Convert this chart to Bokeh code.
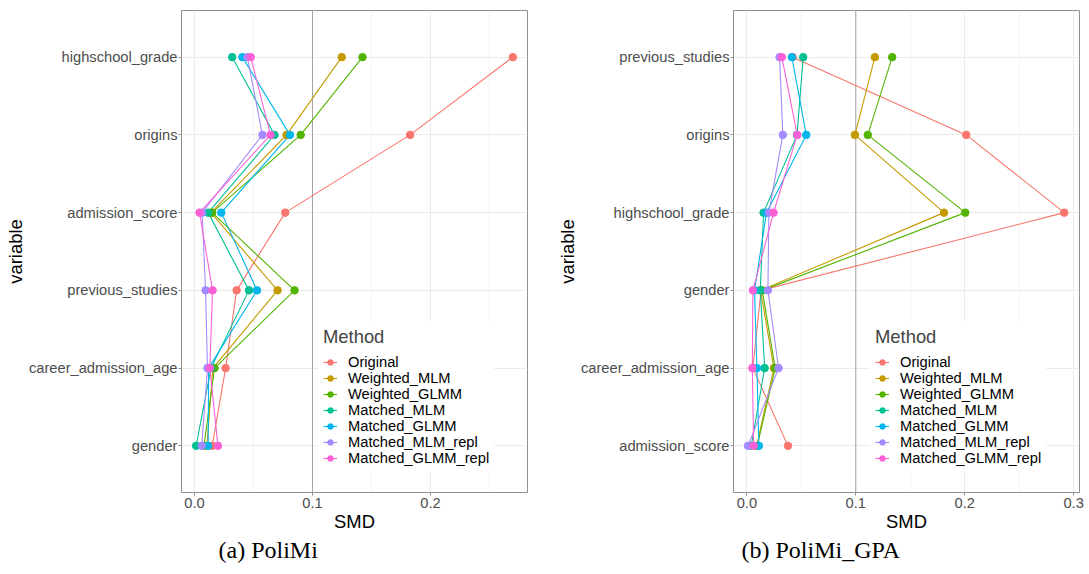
from bokeh.plotting import figure
from bokeh.models import (Range1d, FixedTicker, NumeralTickFormatter, Span, Legend,
                          LegendItem, Title)
from bokeh.layouts import row
from bokeh.embed import file_html
from bokeh.resources import INLINE

methods = ["Original", "Weighted_MLM", "Weighted_GLMM", "Matched_MLM",
           "Matched_GLMM", "Matched_MLM_repl", "Matched_GLMM_repl"]
colors = ["#F8766D", "#C49A00", "#53B400", "#00C094", "#00B6EB", "#A58AFF", "#FB61D7"]

# Panel (a) PoliMi : categories listed top to bottom
cats_a = ["highschool_grade", "origins", "admission_score", "previous_studies",
          "career_admission_age", "gender"]
a_original = [0.2698, 0.1827, 0.0769, 0.0357, 0.0264, 0.0150]
a_weighted_mlm = [0.1248, 0.0780, 0.0140, 0.0704, 0.0156, 0.0105]
a_weighted_glmm = [0.1424, 0.0900, 0.0150, 0.0848, 0.0170, 0.0080]
a_matched_mlm = [0.0320, 0.0678, 0.0116, 0.0462, 0.0140, 0.0014]
a_matched_glmm = [0.0406, 0.0809, 0.0227, 0.0530, 0.0120, 0.0116]
a_matched_mlm_repl = [0.0448, 0.0576, 0.0065, 0.0094, 0.0110, 0.0062]
a_matched_glmm_repl = [0.0477, 0.0644, 0.0043, 0.0153, 0.0130, 0.0199]

# Panel (b) PoliMi_GPA : categories listed top to bottom
cats_b = ["previous_studies", "origins", "highschool_grade", "gender",
          "career_admission_age", "admission_score"]
b_original = [0.0420, 0.2014, 0.2914, 0.0130, 0.0055, 0.0377]
b_weighted_mlm = [0.1175, 0.0992, 0.1810, 0.0125, 0.0248, 0.0090]
b_weighted_glmm = [0.1334, 0.1110, 0.2005, 0.0141, 0.0260, 0.0095]
b_matched_mlm = [0.0517, 0.0460, 0.0153, 0.0123, 0.0163, 0.0040]
b_matched_glmm = [0.0413, 0.0545, 0.0180, 0.0070, 0.0092, 0.0110]
b_matched_mlm_repl = [0.0300, 0.0330, 0.0202, 0.0193, 0.0291, 0.0010]
b_matched_glmm_repl = [0.0321, 0.0462, 0.0245, 0.0055, 0.0050, 0.0062]

x_ticks = [0.0, 0.1, 0.2, 0.3]
x_minor = [0.05, 0.15, 0.25]

SANS = "Liberation Sans"
GRID = "#EBEBEB"
BORDER = "#8F8F8F"


def make_panel(cats, series, xr, caption, border_left, border_right, cap_offset):
    n = len(cats)
    ypos = [n - i for i in range(n)]
    p = figure(frame_width=346, frame_height=482,
               min_border_left=border_left, min_border_right=border_right,
               min_border_top=10, min_border_bottom=82,
               x_range=Range1d(*xr), y_range=Range1d(0.4, n + 0.6),
               output_backend="svg", toolbar_location=None)
    p.background_fill_color = "white"
    p.border_fill_color = "white"
    p.outline_line_color = BORDER
    p.outline_line_width = 1

    xt = [t for t in x_ticks if xr[0] <= t <= xr[1]]
    p.xaxis.ticker = FixedTicker(ticks=xt, minor_ticks=x_minor)
    p.xgrid.ticker = FixedTicker(ticks=xt, minor_ticks=x_minor)
    p.xaxis.formatter = NumeralTickFormatter(format="0.0")
    p.yaxis.ticker = FixedTicker(ticks=ypos)
    p.ygrid.ticker = FixedTicker(ticks=ypos)
    p.yaxis.major_label_overrides = {y: c for y, c in zip(ypos, cats)}

    p.xgrid.grid_line_color = GRID
    p.xgrid.grid_line_width = 1
    p.xgrid.minor_grid_line_color = GRID
    p.xgrid.minor_grid_line_width = 0.6
    p.ygrid.grid_line_color = GRID
    p.ygrid.grid_line_width = 1

    for ax in (p.xaxis[0], p.yaxis[0]):
        ax.axis_line_color = None
        ax.major_tick_line_color = BORDER
        ax.major_tick_out = 3
        ax.major_tick_in = 0
        ax.minor_tick_line_color = None
        ax.major_label_text_font = SANS
        ax.major_label_text_font_size = "14.7px"
        ax.major_label_text_color = "#4D4D4D"
        ax.major_label_standoff = 1
        ax.axis_label_text_font = SANS
        ax.axis_label_text_font_size = "18.4px"
        ax.axis_label_text_font_style = "normal"
        ax.axis_label_text_color = "black"
        ax.axis_label_standoff = 0
    p.xaxis.axis_label = "SMD"
    p.yaxis.axis_label = "variable"

    p.add_layout(Span(location=0.1, dimension="height", line_color="#A3A3A3",
                      line_width=1, level="underlay"))

    lines = []
    for vals, col in zip(series, colors):
        lines.append(p.line(vals, ypos, line_color=col, line_width=1.1))
    pts = []
    for vals, col in zip(series, colors):
        pts.append(p.scatter(vals, ypos, size=7.5, fill_color=col, line_color=col))

    items = [LegendItem(label=m, renderers=[l, s]) for m, l, s in zip(methods, lines, pts)]
    leg = Legend(items=items, location=(137, 21), title="Method",
                 title_text_font=SANS, title_text_font_size="18.4px",
                 title_text_font_style="normal", title_standoff=6,
                 label_text_font=SANS, label_text_font_size="14.7px",
                 label_text_color="black",
                 glyph_width=14, glyph_height=16, label_height=16, spacing=0,
                 label_standoff=11, padding=5, margin=0,
                 border_line_alpha=0, background_fill_color="white",
                 background_fill_alpha=1)
    p.add_layout(leg)

    p.add_layout(Title(text=caption, align="left", offset=cap_offset, standoff=0,
                       text_font="Liberation Serif", text_font_size="24px",
                       text_font_style="normal", text_color="black"), "below")
    return p


series_a = [a_original, a_weighted_mlm, a_weighted_glmm, a_matched_mlm,
            a_matched_glmm, a_matched_mlm_repl, a_matched_glmm_repl]
series_b = [b_original, b_weighted_mlm, b_weighted_glmm, b_matched_mlm,
            b_matched_glmm, b_matched_mlm_repl, b_matched_glmm_repl]

p1 = make_panel(cats_a, series_a, (-0.011, 0.2822), "(a) PoliMi", 181, 17, 37)
p2 = make_panel(cats_b, series_b, (-0.0123, 0.3054), "(b) PoliMi_GPA", 189, 10, 8)

layout = row(p1, p2)
open("out.html", "w").write(file_html(layout, INLINE))
